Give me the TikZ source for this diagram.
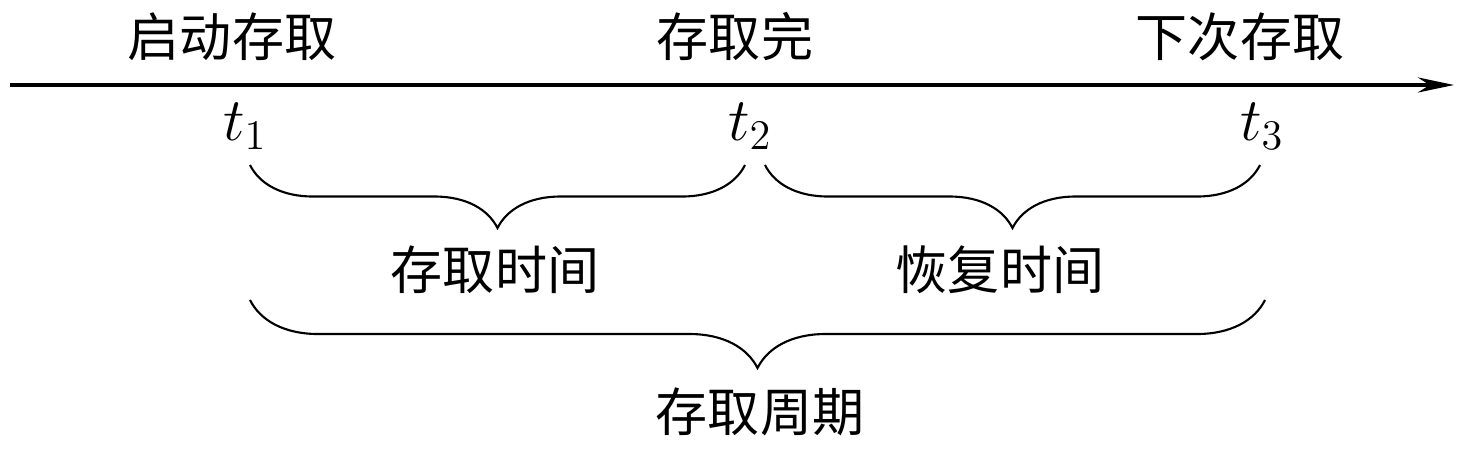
\documentclass[tikz,border=0pt]{standalone}
\usepackage{fontspec}
\setmainfont{Liberation Serif}
\newfontfamily\cjk{Noto Sans CJK SC}
\usetikzlibrary{arrows.meta,decorations.pathreplacing}

\begin{document}
\begin{tikzpicture}[x=0.01cm, y=-0.01cm,
every node/.style={%anchor=base,
    inner sep =1pt, font=\cjk\fontsize{14.8}{17}\selectfont
    },
tlab/.style={font=\fontsize{18}{20}\selectfont},
brc/.style={decorate, decoration={brace, mirror, amplitude=#1}, line width=0.6pt},
brc/.default=0.63cm
]
\useasboundingbox (0,0) rectangle (1464,452);

% time axis
\coordinate (axl) at (10,85);
\coordinate (axr) at (1454,85);
\draw [line width=1.2pt, -{Stealth[length=0.36cm, width=0.15cm]}] (axl) -- (axr);

\node (start) at (232,37) {启动存取};
\node (done)  at (735,37) {存取完};
\node (next)  at (1240,37) {下次存取};

\foreach \n/\x in {1/245, 2/750, 3/1262}
    \node [tlab] (t\n) at (\x,126) {$t_\n$};

\coordinate (a1) at (250,165);
\coordinate (a2) at (745,165);
\coordinate (b1) at (765,165);
\coordinate (b2) at (1260,165);
\coordinate (c1) at (250,300);
\coordinate (c2) at (1265,300);

\draw [brc] (a1) -- (a2);
\draw [brc] (b1) -- (b2);
\draw [brc=0.68cm] (c1) -- (c2);

\node (access)  at (495,270) {存取时间};
\node (recover) at (1000,270) {恢复时间};
\node (cycle)   at (760,412) {存取周期};

\end{tikzpicture}
\end{document}
